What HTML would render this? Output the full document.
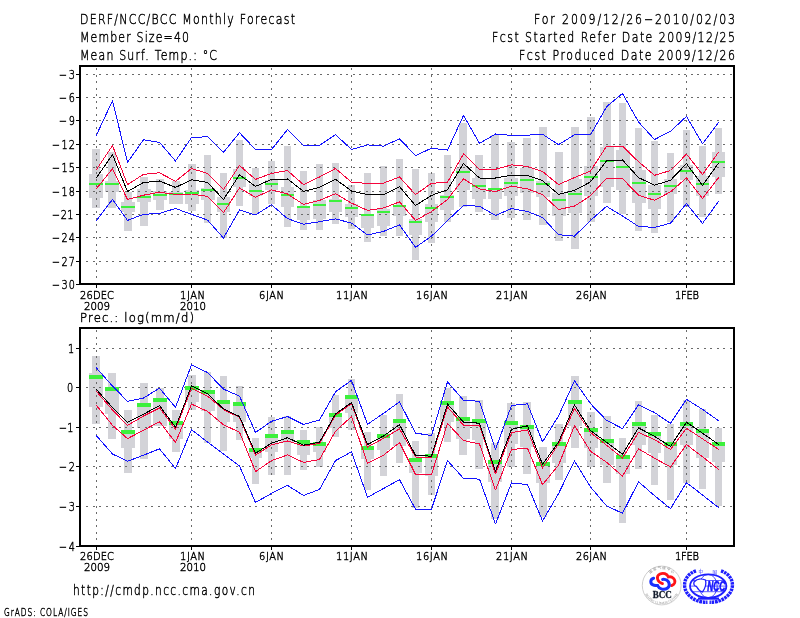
<!DOCTYPE html>
<html><head><meta charset="utf-8"><title>DERF/NCC/BCC Monthly Forecast</title>
<style>html,body{margin:0;padding:0;background:#fff;} svg{display:block;}</style>
</head><body>
<svg width="800" height="618" viewBox="0 0 800 618">
<rect width="800" height="618" fill="#fff"/>
<style>text.t{font-family:"DejaVu Sans","Liberation Sans",sans-serif;font-weight:200;fill:#000;stroke:#000;stroke-width:0.45px;}</style>
<text class="t" transform="translate(80.00,24) scale(0.8,1)" x="0" y="0" font-size="13.7" textLength="268.75" lengthAdjust="spacing">DERF/NCC/BCC Monthly Forecast</text>
<text class="t" transform="translate(80.00,42) scale(0.8,1)" x="0" y="0" font-size="13.7" textLength="136.25" lengthAdjust="spacing">Member Size=40</text>
<text class="t" transform="translate(80.00,59.5) scale(0.8,1)" x="0" y="0" font-size="13.7" textLength="171.25" lengthAdjust="spacing">Mean Surf. Temp.: &#176;C</text>
<text class="t" transform="translate(534.00,24) scale(0.8,1)" x="0" y="0" font-size="13.7" textLength="251.25" lengthAdjust="spacing">For 2009/12/26&#8722;2010/02/03</text>
<text class="t" transform="translate(492.00,42) scale(0.8,1)" x="0" y="0" font-size="13.7" textLength="303.75" lengthAdjust="spacing">Fcst Started Refer Date 2009/12/25</text>
<text class="t" transform="translate(519.00,59.5) scale(0.8,1)" x="0" y="0" font-size="13.7" textLength="270.00" lengthAdjust="spacing">Fcst Produced Date 2009/12/26</text>
<g fill="#d3d3d8" shape-rendering="crispEdges">
<rect x="92" y="149" width="8" height="59"/>
<rect x="89" y="174" width="14" height="24"/>
<rect x="108" y="152" width="8" height="56"/>
<rect x="105" y="181" width="14" height="11"/>
<rect x="124" y="192" width="8" height="39"/>
<rect x="121" y="202" width="14" height="10"/>
<rect x="140" y="177" width="8" height="49"/>
<rect x="137" y="189" width="14" height="13"/>
<rect x="156" y="179" width="8" height="31"/>
<rect x="153" y="191" width="14" height="9"/>
<rect x="172" y="181" width="8" height="23"/>
<rect x="169" y="192" width="14" height="12"/>
<rect x="188" y="164" width="8" height="47"/>
<rect x="185" y="190" width="14" height="14"/>
<rect x="204" y="155" width="7" height="68"/>
<rect x="201" y="188" width="14" height="12"/>
<rect x="220" y="173" width="7" height="65"/>
<rect x="217" y="197" width="13" height="15"/>
<rect x="236" y="140" width="7" height="66"/>
<rect x="233" y="169" width="13" height="18"/>
<rect x="252" y="168" width="7" height="46"/>
<rect x="249" y="184" width="13" height="12"/>
<rect x="268" y="161" width="7" height="43"/>
<rect x="265" y="180" width="13" height="10"/>
<rect x="284" y="146" width="7" height="81"/>
<rect x="281" y="187" width="13" height="20"/>
<rect x="300" y="171" width="7" height="59"/>
<rect x="297" y="206" width="13" height="14"/>
<rect x="316" y="164" width="7" height="66"/>
<rect x="313" y="200" width="13" height="19"/>
<rect x="332" y="163" width="7" height="61"/>
<rect x="329" y="199" width="13" height="13"/>
<rect x="348" y="185" width="7" height="44"/>
<rect x="345" y="204" width="13" height="13"/>
<rect x="364" y="173" width="7" height="69"/>
<rect x="361" y="215" width="13" height="13"/>
<rect x="380" y="166" width="7" height="70"/>
<rect x="377" y="209" width="13" height="17"/>
<rect x="396" y="159" width="7" height="77"/>
<rect x="393" y="205" width="13" height="11"/>
<rect x="412" y="169" width="7" height="91"/>
<rect x="409" y="219" width="13" height="16"/>
<rect x="428" y="173" width="7" height="70"/>
<rect x="425" y="204" width="13" height="18"/>
<rect x="444" y="155" width="7" height="67"/>
<rect x="440" y="195" width="14" height="15"/>
<rect x="459" y="123" width="8" height="84"/>
<rect x="456" y="168" width="14" height="22"/>
<rect x="475" y="155" width="8" height="57"/>
<rect x="472" y="178" width="14" height="21"/>
<rect x="491" y="135" width="8" height="85"/>
<rect x="488" y="188" width="14" height="11"/>
<rect x="507" y="142" width="8" height="76"/>
<rect x="504" y="178" width="14" height="18"/>
<rect x="523" y="138" width="8" height="82"/>
<rect x="520" y="168" width="14" height="25"/>
<rect x="539" y="127" width="8" height="98"/>
<rect x="536" y="181" width="14" height="16"/>
<rect x="555" y="152" width="8" height="89"/>
<rect x="552" y="193" width="14" height="23"/>
<rect x="571" y="127" width="8" height="122"/>
<rect x="568" y="179" width="14" height="34"/>
<rect x="587" y="117" width="8" height="105"/>
<rect x="584" y="166" width="14" height="30"/>
<rect x="603" y="102" width="8" height="101"/>
<rect x="600" y="147" width="14" height="40"/>
<rect x="619" y="103" width="7" height="111"/>
<rect x="616" y="150" width="14" height="40"/>
<rect x="635" y="128" width="7" height="103"/>
<rect x="632" y="170" width="14" height="33"/>
<rect x="651" y="141" width="7" height="92"/>
<rect x="648" y="185" width="13" height="24"/>
<rect x="667" y="153" width="7" height="69"/>
<rect x="664" y="179" width="13" height="15"/>
<rect x="683" y="130" width="7" height="77"/>
<rect x="680" y="165" width="13" height="15"/>
<rect x="699" y="146" width="7" height="71"/>
<rect x="696" y="176" width="13" height="20"/>
<rect x="715" y="128" width="7" height="66"/>
<rect x="712" y="152" width="13" height="25"/>
</g>
<g stroke="#6a6a6a" stroke-width="1" stroke-dasharray="2 4.5" shape-rendering="crispEdges">
<line x1="86" y1="74.5" x2="733" y2="74.5"/>
<line x1="86" y1="97.5" x2="733" y2="97.5"/>
<line x1="86" y1="120.5" x2="733" y2="120.5"/>
<line x1="86" y1="144.5" x2="733" y2="144.5"/>
<line x1="86" y1="167.5" x2="733" y2="167.5"/>
<line x1="86" y1="191.5" x2="733" y2="191.5"/>
<line x1="86" y1="214.5" x2="733" y2="214.5"/>
<line x1="86" y1="237.5" x2="733" y2="237.5"/>
<line x1="86" y1="261.5" x2="733" y2="261.5"/>
<line x1="96.5" y1="68" x2="96.5" y2="283"/>
<line x1="191.5" y1="68" x2="191.5" y2="283"/>
<line x1="271.5" y1="68" x2="271.5" y2="283"/>
<line x1="351.5" y1="68" x2="351.5" y2="283"/>
<line x1="431.5" y1="68" x2="431.5" y2="283"/>
<line x1="511.5" y1="68" x2="511.5" y2="283"/>
<line x1="590.5" y1="68" x2="590.5" y2="283"/>
<line x1="686.5" y1="68" x2="686.5" y2="283"/>
</g>
<g fill="#3cf03c" shape-rendering="crispEdges">
<rect x="89" y="183" width="14" height="2"/>
<rect x="105" y="183" width="14" height="2"/>
<rect x="121" y="206" width="14" height="2"/>
<rect x="137" y="196" width="14" height="2"/>
<rect x="153" y="194" width="14" height="2"/>
<rect x="169" y="193" width="14" height="2"/>
<rect x="185" y="192" width="14" height="2"/>
<rect x="201" y="189" width="14" height="2"/>
<rect x="217" y="203" width="13" height="2"/>
<rect x="233" y="177" width="13" height="2"/>
<rect x="249" y="190" width="13" height="2"/>
<rect x="265" y="183" width="13" height="2"/>
<rect x="281" y="194" width="13" height="2"/>
<rect x="297" y="206" width="13" height="2"/>
<rect x="313" y="204" width="13" height="2"/>
<rect x="329" y="200" width="13" height="2"/>
<rect x="345" y="207" width="13" height="2"/>
<rect x="361" y="214" width="13" height="2"/>
<rect x="377" y="211" width="13" height="2"/>
<rect x="393" y="205" width="13" height="2"/>
<rect x="409" y="221" width="13" height="2"/>
<rect x="425" y="207" width="13" height="2"/>
<rect x="440" y="196" width="14" height="2"/>
<rect x="456" y="171" width="14" height="2"/>
<rect x="472" y="185" width="14" height="2"/>
<rect x="488" y="188" width="14" height="2"/>
<rect x="504" y="182" width="14" height="2"/>
<rect x="520" y="179" width="14" height="2"/>
<rect x="536" y="183" width="14" height="2"/>
<rect x="552" y="199" width="14" height="2"/>
<rect x="568" y="193" width="14" height="2"/>
<rect x="584" y="176" width="14" height="2"/>
<rect x="600" y="160" width="14" height="2"/>
<rect x="616" y="166" width="14" height="2"/>
<rect x="632" y="182" width="14" height="2"/>
<rect x="648" y="193" width="13" height="2"/>
<rect x="664" y="185" width="13" height="2"/>
<rect x="680" y="170" width="13" height="2"/>
<rect x="696" y="183" width="13" height="2"/>
<rect x="712" y="161" width="13" height="2"/>
</g>
<polyline fill="none" stroke="#1414ff" stroke-width="1" stroke-linejoin="round" stroke-linecap="round" shape-rendering="crispEdges" points="96.5,135.0 112.5,100.6 127.5,162.4 143.5,139.8 159.5,142.4 175.5,161.0 191.5,137.6 207.5,136.7 223.5,152.3 239.5,132.7 255.5,149.5 271.5,149.5 287.5,129.5 303.5,145.3 319.5,145.3 335.5,134.6 351.5,149.5 367.5,144.9 383.5,146.1 399.5,138.8 415.5,155.6 431.5,148.2 447.5,150.1 463.5,115.5 479.5,143.4 495.5,134.0 511.5,135.4 527.5,135.2 542.5,134.2 558.5,144.7 574.5,134.8 590.5,134.8 606.5,106.8 622.5,93.5 638.5,122.0 654.5,139.5 670.5,131.3 686.5,116.4 702.5,143.9 718.5,122.5"/>
<polyline fill="none" stroke="#1414ff" stroke-width="1" stroke-linejoin="round" stroke-linecap="round" shape-rendering="crispEdges" points="96.5,220.4 112.5,199.4 127.5,220.4 143.5,214.3 159.5,213.4 175.5,208.5 191.5,214.3 207.5,220.1 223.5,238.0 239.5,210.0 255.5,215.0 271.5,204.8 287.5,218.6 303.5,224.3 319.5,221.7 335.5,218.9 351.5,223.1 367.5,235.0 383.5,231.4 399.5,224.9 415.5,247.3 431.5,236.2 447.5,220.6 463.5,205.5 479.5,206.2 495.5,215.5 511.5,208.6 527.5,211.5 542.5,217.5 558.5,234.7 574.5,236.1 590.5,220.5 606.5,206.3 622.5,216.0 638.5,226.4 654.5,227.4 670.5,223.2 686.5,203.6 702.5,223.4 718.5,201.5"/>
<polyline fill="none" stroke="#f5053c" stroke-width="1" stroke-linejoin="round" stroke-linecap="round" shape-rendering="crispEdges" points="96.5,188.5 112.5,168.8 127.5,199.5 143.5,195.2 159.5,192.2 175.5,194.4 191.5,194.0 207.5,196.4 223.5,212.6 239.5,188.0 255.5,197.3 271.5,189.8 287.5,194.0 303.5,204.5 319.5,200.4 335.5,193.7 351.5,203.1 367.5,210.4 383.5,208.0 399.5,201.9 415.5,220.4 431.5,211.6 447.5,199.4 463.5,178.8 479.5,188.9 495.5,191.6 511.5,186.1 527.5,188.9 542.5,194.6 558.5,209.5 574.5,206.1 590.5,195.8 606.5,178.2 622.5,178.6 638.5,195.2 654.5,200.3 670.5,191.9 686.5,177.9 702.5,198.5 718.5,177.7"/>
<polyline fill="none" stroke="#f5053c" stroke-width="1" stroke-linejoin="round" stroke-linecap="round" shape-rendering="crispEdges" points="96.5,169.5 112.5,145.5 127.5,184.7 143.5,174.3 159.5,172.8 175.5,181.3 191.5,168.5 207.5,173.4 223.5,189.5 239.5,165.5 255.5,179.4 271.5,173.4 287.5,170.6 303.5,184.6 319.5,177.0 335.5,168.5 351.5,182.2 367.5,183.4 383.5,183.1 399.5,177.0 415.5,194.6 431.5,183.3 447.5,182.2 463.5,153.8 479.5,169.3 495.5,169.3 511.5,164.9 527.5,166.4 542.5,171.5 558.5,184.6 574.5,177.6 590.5,171.0 606.5,146.3 622.5,146.2 638.5,161.7 654.5,175.3 670.5,170.5 686.5,154.1 702.5,174.5 718.5,152.3"/>
<polyline fill="none" stroke="#000" stroke-width="1" stroke-linejoin="round" stroke-linecap="round" shape-rendering="crispEdges" points="96.5,177.6 112.5,154.6 127.5,191.6 143.5,182.5 159.5,181.0 175.5,187.4 191.5,179.8 207.5,182.5 223.5,199.5 239.5,174.8 255.5,186.4 271.5,179.4 287.5,179.0 303.5,191.3 319.5,187.3 335.5,179.2 351.5,191.0 367.5,194.6 383.5,194.6 399.5,186.7 415.5,205.5 431.5,195.4 447.5,189.7 463.5,163.5 479.5,178.0 495.5,178.0 511.5,175.2 527.5,175.5 542.5,180.6 558.5,194.3 574.5,190.4 590.5,181.9 606.5,160.9 622.5,160.0 638.5,177.6 654.5,185.2 670.5,180.3 686.5,163.6 702.5,185.4 718.5,163.2"/>
<g fill="#000" shape-rendering="crispEdges">
<rect x="79" y="65" width="656" height="2"/>
<rect x="79" y="283" width="656" height="2"/>
<rect x="79" y="65" width="2" height="220"/>
<rect x="733" y="65" width="2" height="220"/>
<rect x="76" y="74" width="3" height="1"/>
<rect x="76" y="97" width="3" height="1"/>
<rect x="76" y="120" width="3" height="1"/>
<rect x="76" y="144" width="3" height="1"/>
<rect x="76" y="167" width="3" height="1"/>
<rect x="76" y="191" width="3" height="1"/>
<rect x="76" y="214" width="3" height="1"/>
<rect x="76" y="237" width="3" height="1"/>
<rect x="76" y="261" width="3" height="1"/>
<rect x="76" y="284" width="3" height="1"/>
<rect x="96" y="285" width="1" height="3"/>
<rect x="191" y="285" width="1" height="3"/>
<rect x="271" y="285" width="1" height="3"/>
<rect x="351" y="285" width="1" height="3"/>
<rect x="431" y="285" width="1" height="3"/>
<rect x="511" y="285" width="1" height="3"/>
<rect x="590" y="285" width="1" height="3"/>
<rect x="686" y="285" width="1" height="3"/>
</g>
<text class="t" transform="translate(59.00,79) scale(0.82,1)" x="0" y="0" font-size="11.8" textLength="19.51" lengthAdjust="spacing">&#8722;3</text>
<text class="t" transform="translate(59.00,102) scale(0.82,1)" x="0" y="0" font-size="11.8" textLength="19.51" lengthAdjust="spacing">&#8722;6</text>
<text class="t" transform="translate(59.00,125) scale(0.82,1)" x="0" y="0" font-size="11.8" textLength="19.51" lengthAdjust="spacing">&#8722;9</text>
<text class="t" transform="translate(52.00,149) scale(0.82,1)" x="0" y="0" font-size="11.8" textLength="28.05" lengthAdjust="spacing">&#8722;12</text>
<text class="t" transform="translate(52.00,172) scale(0.82,1)" x="0" y="0" font-size="11.8" textLength="28.05" lengthAdjust="spacing">&#8722;15</text>
<text class="t" transform="translate(52.00,196) scale(0.82,1)" x="0" y="0" font-size="11.8" textLength="28.05" lengthAdjust="spacing">&#8722;18</text>
<text class="t" transform="translate(52.00,219) scale(0.82,1)" x="0" y="0" font-size="11.8" textLength="26.22" lengthAdjust="spacing">&#8722;21</text>
<text class="t" transform="translate(52.00,242) scale(0.82,1)" x="0" y="0" font-size="11.8" textLength="28.05" lengthAdjust="spacing">&#8722;24</text>
<text class="t" transform="translate(52.00,266) scale(0.82,1)" x="0" y="0" font-size="11.8" textLength="28.05" lengthAdjust="spacing">&#8722;27</text>
<text class="t" transform="translate(52.00,289) scale(0.82,1)" x="0" y="0" font-size="11.8" textLength="28.05" lengthAdjust="spacing">&#8722;30</text>
<g fill="#d3d3d8" shape-rendering="crispEdges">
<rect x="92" y="356" width="8" height="68"/>
<rect x="89" y="373" width="14" height="34"/>
<rect x="108" y="373" width="8" height="66"/>
<rect x="105" y="387" width="14" height="27"/>
<rect x="124" y="410" width="8" height="63"/>
<rect x="121" y="430" width="14" height="18"/>
<rect x="140" y="383" width="8" height="76"/>
<rect x="137" y="403" width="14" height="25"/>
<rect x="156" y="388" width="8" height="38"/>
<rect x="153" y="398" width="14" height="28"/>
<rect x="172" y="410" width="8" height="42"/>
<rect x="169" y="421" width="14" height="18"/>
<rect x="188" y="375" width="8" height="35"/>
<rect x="185" y="386" width="14" height="16"/>
<rect x="204" y="372" width="7" height="71"/>
<rect x="201" y="390" width="14" height="21"/>
<rect x="220" y="376" width="7" height="75"/>
<rect x="217" y="400" width="13" height="22"/>
<rect x="236" y="386" width="7" height="54"/>
<rect x="233" y="402" width="13" height="20"/>
<rect x="252" y="438" width="7" height="46"/>
<rect x="249" y="448" width="13" height="10"/>
<rect x="268" y="417" width="7" height="58"/>
<rect x="265" y="434" width="13" height="18"/>
<rect x="284" y="416" width="7" height="59"/>
<rect x="281" y="430" width="13" height="13"/>
<rect x="300" y="430" width="7" height="40"/>
<rect x="297" y="440" width="13" height="15"/>
<rect x="316" y="427" width="7" height="40"/>
<rect x="313" y="442" width="13" height="10"/>
<rect x="332" y="395" width="7" height="42"/>
<rect x="329" y="413" width="13" height="15"/>
<rect x="348" y="379" width="7" height="51"/>
<rect x="345" y="395" width="13" height="18"/>
<rect x="364" y="432" width="7" height="58"/>
<rect x="361" y="446" width="13" height="13"/>
<rect x="380" y="415" width="7" height="61"/>
<rect x="377" y="434" width="13" height="16"/>
<rect x="396" y="394" width="7" height="69"/>
<rect x="393" y="419" width="13" height="27"/>
<rect x="412" y="441" width="7" height="67"/>
<rect x="409" y="458" width="13" height="15"/>
<rect x="428" y="433" width="7" height="62"/>
<rect x="425" y="454" width="13" height="22"/>
<rect x="444" y="388" width="7" height="54"/>
<rect x="440" y="401" width="14" height="21"/>
<rect x="459" y="396" width="8" height="59"/>
<rect x="456" y="417" width="14" height="22"/>
<rect x="475" y="400" width="8" height="69"/>
<rect x="472" y="419" width="14" height="21"/>
<rect x="491" y="443" width="8" height="76"/>
<rect x="488" y="460" width="14" height="22"/>
<rect x="507" y="403" width="8" height="64"/>
<rect x="504" y="421" width="14" height="23"/>
<rect x="523" y="402" width="8" height="72"/>
<rect x="520" y="425" width="14" height="22"/>
<rect x="539" y="447" width="8" height="70"/>
<rect x="536" y="462" width="14" height="21"/>
<rect x="555" y="424" width="8" height="56"/>
<rect x="552" y="442" width="14" height="21"/>
<rect x="571" y="376" width="8" height="72"/>
<rect x="568" y="400" width="14" height="26"/>
<rect x="587" y="412" width="8" height="55"/>
<rect x="584" y="428" width="14" height="20"/>
<rect x="603" y="416" width="8" height="67"/>
<rect x="600" y="439" width="14" height="26"/>
<rect x="619" y="438" width="7" height="85"/>
<rect x="616" y="455" width="14" height="19"/>
<rect x="635" y="401" width="7" height="68"/>
<rect x="632" y="422" width="14" height="23"/>
<rect x="651" y="415" width="7" height="70"/>
<rect x="648" y="432" width="13" height="21"/>
<rect x="667" y="424" width="7" height="76"/>
<rect x="664" y="442" width="13" height="23"/>
<rect x="683" y="400" width="7" height="83"/>
<rect x="680" y="422" width="13" height="23"/>
<rect x="699" y="409" width="7" height="80"/>
<rect x="696" y="429" width="13" height="29"/>
<rect x="715" y="428" width="7" height="78"/>
<rect x="712" y="442" width="13" height="20"/>
</g>
<g stroke="#6a6a6a" stroke-width="1" stroke-dasharray="2 4.5" shape-rendering="crispEdges">
<line x1="86" y1="348.5" x2="733" y2="348.5"/>
<line x1="86" y1="387.5" x2="733" y2="387.5"/>
<line x1="86" y1="427.5" x2="733" y2="427.5"/>
<line x1="86" y1="466.5" x2="733" y2="466.5"/>
<line x1="86" y1="506.5" x2="733" y2="506.5"/>
<line x1="96.5" y1="330" x2="96.5" y2="545"/>
<line x1="191.5" y1="330" x2="191.5" y2="545"/>
<line x1="271.5" y1="330" x2="271.5" y2="545"/>
<line x1="351.5" y1="330" x2="351.5" y2="545"/>
<line x1="431.5" y1="330" x2="431.5" y2="545"/>
<line x1="511.5" y1="330" x2="511.5" y2="545"/>
<line x1="590.5" y1="330" x2="590.5" y2="545"/>
<line x1="686.5" y1="330" x2="686.5" y2="545"/>
</g>
<g fill="#3cf03c" shape-rendering="crispEdges">
<rect x="89" y="375" width="14" height="4"/>
<rect x="105" y="387" width="14" height="4"/>
<rect x="121" y="430" width="14" height="4"/>
<rect x="137" y="403" width="14" height="4"/>
<rect x="153" y="398" width="14" height="4"/>
<rect x="169" y="421" width="14" height="4"/>
<rect x="185" y="386" width="14" height="4"/>
<rect x="201" y="390" width="14" height="4"/>
<rect x="217" y="400" width="13" height="4"/>
<rect x="233" y="402" width="13" height="4"/>
<rect x="249" y="448" width="13" height="4"/>
<rect x="265" y="434" width="13" height="4"/>
<rect x="281" y="430" width="13" height="4"/>
<rect x="297" y="440" width="13" height="4"/>
<rect x="313" y="442" width="13" height="4"/>
<rect x="329" y="413" width="13" height="4"/>
<rect x="345" y="395" width="13" height="4"/>
<rect x="361" y="446" width="13" height="4"/>
<rect x="377" y="434" width="13" height="4"/>
<rect x="393" y="419" width="13" height="4"/>
<rect x="409" y="458" width="13" height="4"/>
<rect x="425" y="454" width="13" height="4"/>
<rect x="440" y="401" width="14" height="4"/>
<rect x="456" y="417" width="14" height="4"/>
<rect x="472" y="419" width="14" height="4"/>
<rect x="488" y="460" width="14" height="4"/>
<rect x="504" y="421" width="14" height="4"/>
<rect x="520" y="425" width="14" height="4"/>
<rect x="536" y="462" width="14" height="4"/>
<rect x="552" y="442" width="14" height="4"/>
<rect x="568" y="400" width="14" height="4"/>
<rect x="584" y="428" width="14" height="4"/>
<rect x="600" y="439" width="14" height="4"/>
<rect x="616" y="455" width="14" height="4"/>
<rect x="632" y="422" width="14" height="4"/>
<rect x="648" y="432" width="13" height="4"/>
<rect x="664" y="442" width="13" height="4"/>
<rect x="680" y="422" width="13" height="4"/>
<rect x="696" y="429" width="13" height="4"/>
<rect x="712" y="442" width="13" height="4"/>
</g>
<polyline fill="none" stroke="#1414ff" stroke-width="1" stroke-linejoin="round" stroke-linecap="round" shape-rendering="crispEdges" points="96.5,368.0 112.5,386.0 127.5,401.3 143.5,398.0 159.5,388.2 175.5,407.3 191.5,364.9 207.5,372.5 223.5,389.1 239.5,396.1 255.5,432.5 271.5,421.3 287.5,416.5 303.5,424.5 319.5,420.0 335.5,391.8 351.5,380.4 367.5,424.3 383.5,413.4 399.5,401.8 415.5,433.1 431.5,435.5 447.5,381.9 463.5,400.3 479.5,401.3 495.5,449.4 511.5,405.5 527.5,403.9 542.5,441.8 558.5,416.0 574.5,380.9 590.5,403.7 606.5,420.3 622.5,428.6 638.5,404.9 654.5,412.5 670.5,423.4 686.5,399.4 702.5,409.4 718.5,420.7"/>
<polyline fill="none" stroke="#1414ff" stroke-width="1" stroke-linejoin="round" stroke-linecap="round" shape-rendering="crispEdges" points="96.5,435.8 112.5,454.0 127.5,461.3 143.5,455.2 159.5,448.8 175.5,468.6 191.5,429.7 207.5,442.0 223.5,454.0 239.5,466.1 255.5,502.5 271.5,493.4 287.5,485.4 303.5,495.5 319.5,489.4 335.5,460.6 351.5,451.8 367.5,497.3 383.5,488.5 399.5,479.6 415.5,509.2 431.5,509.2 447.5,460.6 463.5,478.4 479.5,479.1 495.5,524.0 511.5,483.0 527.5,484.6 542.5,521.0 558.5,493.7 574.5,460.9 590.5,487.0 606.5,505.8 622.5,513.3 638.5,481.8 654.5,495.6 670.5,508.6 686.5,482.6 702.5,495.0 718.5,507.6"/>
<polyline fill="none" stroke="#f5053c" stroke-width="1" stroke-linejoin="round" stroke-linecap="round" shape-rendering="crispEdges" points="96.5,405.5 112.5,425.4 127.5,438.6 143.5,430.3 159.5,421.7 175.5,442.5 191.5,404.1 207.5,411.4 223.5,424.8 239.5,432.2 255.5,471.6 271.5,460.7 287.5,454.9 303.5,462.4 319.5,459.5 335.5,431.2 351.5,416.6 367.5,463.4 383.5,455.2 399.5,442.6 415.5,474.6 431.5,474.6 447.5,423.5 463.5,440.5 479.5,444.0 495.5,490.0 511.5,449.4 527.5,448.2 542.5,484.6 558.5,465.2 574.5,425.6 590.5,451.3 606.5,462.2 622.5,476.1 638.5,448.8 654.5,458.2 670.5,467.0 686.5,444.6 702.5,456.7 718.5,469.4"/>
<polyline fill="none" stroke="#f5053c" stroke-width="1" stroke-linejoin="round" stroke-linecap="round" shape-rendering="crispEdges" points="96.5,391.5 112.5,410.0 127.5,425.4 143.5,416.0 159.5,408.0 175.5,429.1 191.5,388.2 207.5,396.1 223.5,409.5 239.5,417.4 255.5,455.2 271.5,444.9 287.5,441.0 303.5,446.0 319.5,443.4 335.5,415.2 351.5,403.7 367.5,447.0 383.5,438.4 399.5,428.8 415.5,457.0 431.5,457.9 447.5,407.0 463.5,425.2 479.5,425.5 495.5,474.0 511.5,432.6 527.5,429.9 542.5,468.1 558.5,444.0 574.5,408.5 590.5,432.5 606.5,445.2 622.5,458.0 638.5,432.4 654.5,439.6 670.5,449.4 686.5,428.3 702.5,438.8 718.5,449.4"/>
<polyline fill="none" stroke="#000" stroke-width="1" stroke-linejoin="round" stroke-linecap="round" shape-rendering="crispEdges" points="96.5,389.5 112.5,407.5 127.5,422.4 143.5,414.2 159.5,405.6 175.5,427.3 191.5,385.8 207.5,393.7 223.5,408.9 239.5,416.5 255.5,453.4 271.5,443.1 287.5,437.7 303.5,445.2 319.5,442.2 335.5,414.0 351.5,402.5 367.5,444.6 383.5,436.0 399.5,424.7 415.5,455.4 431.5,456.2 447.5,404.0 463.5,422.2 479.5,423.2 495.5,471.2 511.5,429.3 527.5,425.8 542.5,464.3 558.5,442.2 574.5,404.9 590.5,430.6 606.5,442.2 622.5,454.3 638.5,427.9 654.5,436.3 670.5,446.5 686.5,422.2 702.5,433.2 718.5,444.3"/>
<g fill="#000" shape-rendering="crispEdges">
<rect x="79" y="327" width="656" height="2"/>
<rect x="79" y="545" width="656" height="2"/>
<rect x="79" y="327" width="2" height="220"/>
<rect x="733" y="327" width="2" height="220"/>
<rect x="76" y="348" width="3" height="1"/>
<rect x="76" y="387" width="3" height="1"/>
<rect x="76" y="427" width="3" height="1"/>
<rect x="76" y="466" width="3" height="1"/>
<rect x="76" y="506" width="3" height="1"/>
<rect x="76" y="546" width="3" height="1"/>
<rect x="96" y="547" width="1" height="3"/>
<rect x="191" y="547" width="1" height="3"/>
<rect x="271" y="547" width="1" height="3"/>
<rect x="351" y="547" width="1" height="3"/>
<rect x="431" y="547" width="1" height="3"/>
<rect x="511" y="547" width="1" height="3"/>
<rect x="590" y="547" width="1" height="3"/>
<rect x="686" y="547" width="1" height="3"/>
</g>
<text class="t" transform="translate(68.00,353) scale(0.82,1)" x="0" y="0" font-size="11.8" textLength="-9.76" lengthAdjust="spacing">1</text>
<text class="t" transform="translate(67.00,392) scale(0.82,1)" x="0" y="0" font-size="11.8" textLength="23.17" lengthAdjust="spacing">0</text>
<text class="t" transform="translate(59.00,432) scale(0.82,1)" x="0" y="0" font-size="11.8" textLength="17.68" lengthAdjust="spacing">&#8722;1</text>
<text class="t" transform="translate(59.00,471) scale(0.82,1)" x="0" y="0" font-size="11.8" textLength="19.51" lengthAdjust="spacing">&#8722;2</text>
<text class="t" transform="translate(59.00,511) scale(0.82,1)" x="0" y="0" font-size="11.8" textLength="19.51" lengthAdjust="spacing">&#8722;3</text>
<text class="t" transform="translate(59.00,551) scale(0.82,1)" x="0" y="0" font-size="11.8" textLength="19.51" lengthAdjust="spacing">&#8722;4</text>
<text class="t" transform="translate(80.00,298.6) scale(0.9,1)" x="0" y="0" font-size="11" textLength="37.78" lengthAdjust="spacing">26DEC</text>
<text class="t" transform="translate(180.00,298.6) scale(0.9,1)" x="0" y="0" font-size="11" textLength="27.78" lengthAdjust="spacing">1JAN</text>
<text class="t" transform="translate(259.00,298.6) scale(0.9,1)" x="0" y="0" font-size="11" textLength="27.78" lengthAdjust="spacing">6JAN</text>
<text class="t" transform="translate(336.00,298.6) scale(0.9,1)" x="0" y="0" font-size="11" textLength="35.56" lengthAdjust="spacing">11JAN</text>
<text class="t" transform="translate(416.00,298.6) scale(0.9,1)" x="0" y="0" font-size="11" textLength="35.56" lengthAdjust="spacing">16JAN</text>
<text class="t" transform="translate(496.00,298.6) scale(0.9,1)" x="0" y="0" font-size="11" textLength="35.56" lengthAdjust="spacing">21JAN</text>
<text class="t" transform="translate(576.00,298.6) scale(0.9,1)" x="0" y="0" font-size="11" textLength="34.44" lengthAdjust="spacing">26JAN</text>
<text class="t" transform="translate(675.00,298.6) scale(0.9,1)" x="0" y="0" font-size="11" textLength="26.67" lengthAdjust="spacing">1FEB</text>
<text class="t" transform="translate(84.00,309.6) scale(0.97,1)" x="0" y="0" font-size="10.6" textLength="26.80" lengthAdjust="spacing">2009</text>
<text class="t" transform="translate(180.00,309.6) scale(0.97,1)" x="0" y="0" font-size="10.6" textLength="26.80" lengthAdjust="spacing">2010</text>
<text class="t" transform="translate(80.00,560) scale(0.9,1)" x="0" y="0" font-size="11" textLength="37.78" lengthAdjust="spacing">26DEC</text>
<text class="t" transform="translate(180.00,560) scale(0.9,1)" x="0" y="0" font-size="11" textLength="27.78" lengthAdjust="spacing">1JAN</text>
<text class="t" transform="translate(259.00,560) scale(0.9,1)" x="0" y="0" font-size="11" textLength="27.78" lengthAdjust="spacing">6JAN</text>
<text class="t" transform="translate(336.00,560) scale(0.9,1)" x="0" y="0" font-size="11" textLength="35.56" lengthAdjust="spacing">11JAN</text>
<text class="t" transform="translate(416.00,560) scale(0.9,1)" x="0" y="0" font-size="11" textLength="35.56" lengthAdjust="spacing">16JAN</text>
<text class="t" transform="translate(496.00,560) scale(0.9,1)" x="0" y="0" font-size="11" textLength="35.56" lengthAdjust="spacing">21JAN</text>
<text class="t" transform="translate(576.00,560) scale(0.9,1)" x="0" y="0" font-size="11" textLength="34.44" lengthAdjust="spacing">26JAN</text>
<text class="t" transform="translate(675.00,560) scale(0.9,1)" x="0" y="0" font-size="11" textLength="26.67" lengthAdjust="spacing">1FEB</text>
<text class="t" transform="translate(84.00,571) scale(0.97,1)" x="0" y="0" font-size="10.6" textLength="26.80" lengthAdjust="spacing">2009</text>
<text class="t" transform="translate(180.00,571) scale(0.97,1)" x="0" y="0" font-size="10.6" textLength="26.80" lengthAdjust="spacing">2010</text>
<text class="t" transform="translate(80.00,321.8) scale(0.95,1)" x="0" y="0" font-size="12.3" textLength="120.00" lengthAdjust="spacing">Prec.: log(mm/d)</text>
<text class="t" transform="translate(73.00,595) scale(0.8,1)" x="0" y="0" font-size="13.2" textLength="227.50" lengthAdjust="spacing">http://cmdp.ncc.cma.gov.cn</text>
<text class="t" transform="translate(4.00,616) scale(0.72,1)" x="0" y="0" font-size="10.4" textLength="116.67" lengthAdjust="spacing">GrADS: COLA/IGES</text>
<g>
<defs>
<path id="bcctop" d="M645.2,585.5 A16.5,16.5 0 0 1 678.2,585.5"/>
<path id="bccbot" d="M643.1,585.5 A18.6,18.6 0 0 0 680.3,585.5"/>
</defs>
<circle cx="661.7" cy="585.5" r="19.4" fill="#fff" stroke="#cfcfcf" stroke-width="1"/>
<text font-family="'Noto Sans CJK SC', sans-serif" font-size="3.6" fill="#8a8a8a"><textPath href="#bcctop" startOffset="50%" text-anchor="middle">国 家 气 候 中 心</textPath></text>
<text font-family="'Liberation Serif', serif" font-size="3.2" fill="#8a8a8a"><textPath href="#bccbot" startOffset="50%" text-anchor="middle">BEIJING CLIMATE CENTER</textPath></text>
<path d="M662.5,583.6 C657,582.2 655.6,576 660,574 C663.2,572.6 667,573.6 668.4,577 C672,576 676,579.2 674.6,583 C674.1,584.2 673,585 671.6,585.6" fill="none" stroke="#ff1418" stroke-width="2.8" stroke-linecap="round"/>
<path d="M653.6,578.2 C650,579.2 649.6,584.2 654,585.2 C655.4,585.6 656.8,585.6 657.6,585.6 C659.2,589.2 664.2,590.6 667.6,588 C670.6,585.6 669.2,580.6 665.6,579.6 C664.6,579.3 663.6,579.3 662.6,579.4" fill="none" stroke="#1a30ff" stroke-width="3" stroke-linecap="round"/>
<text x="662.3" y="597.8" font-family="'Liberation Serif', serif" font-weight="bold" font-size="9.4" text-anchor="middle" fill="#141c2c" stroke="#141c2c" stroke-width="0.3" textLength="19" lengthAdjust="spacingAndGlyphs">BCC</text>
</g>
<g fill="none" stroke="#1e1eff">
<path d="M696,570.8 C688,573.5 683.5,580 684.8,587.5 C686,594 692,599.5 700,601.5 C703,602.2 705.5,602.3 707.5,602.2" stroke-width="3.4" stroke-dasharray="2.6 0.7"/>
<path d="M721,570.8 C729,573.5 733.5,580 732.2,587.5 C731,594 725,599.5 717,601.5 C714,602.2 711.5,602.3 709.5,602.2" stroke-width="3.4" stroke-dasharray="2.6 0.7"/>
<ellipse cx="708.2" cy="586.1" rx="18.2" ry="11.7" stroke-width="1.8"/>
<ellipse cx="708.2" cy="586.1" rx="9" ry="11.7" stroke-width="0.8"/>
<path d="M690.5,586.1 L726,586.1 M692.5,580.5 L724,580.5 M692.5,591.7 L724,591.7" stroke-width="0.7"/>
<path d="M694,582 C697,578.5 702,578.5 705.5,580 C706.5,584 705,588.5 702.5,592 C699.5,591 697.5,588.5 696.5,586.5 C694.5,586 693.5,584 694,582 Z" fill="#fff" stroke-width="1.3"/>
<path d="M698,598.6 L719,598.6" stroke-width="2.2"/>
<text x="716.3" y="591" font-family="'Liberation Sans', sans-serif" font-weight="bold" font-style="italic" font-size="14.5" text-anchor="middle" fill="#1414ff" stroke="#1414ff" stroke-width="0.6" textLength="18" lengthAdjust="spacingAndGlyphs">NCC</text>
<text x="700.6" y="573.4" font-family="'Noto Sans CJK SC', sans-serif" font-size="4.4" text-anchor="middle" fill="#1e1eff" stroke="none">中</text>
<text x="714.8" y="573.8" font-family="'Noto Sans CJK SC', sans-serif" font-size="4.4" text-anchor="middle" fill="#1e1eff" stroke="none">国</text>
</g>
</svg>
</body></html>
